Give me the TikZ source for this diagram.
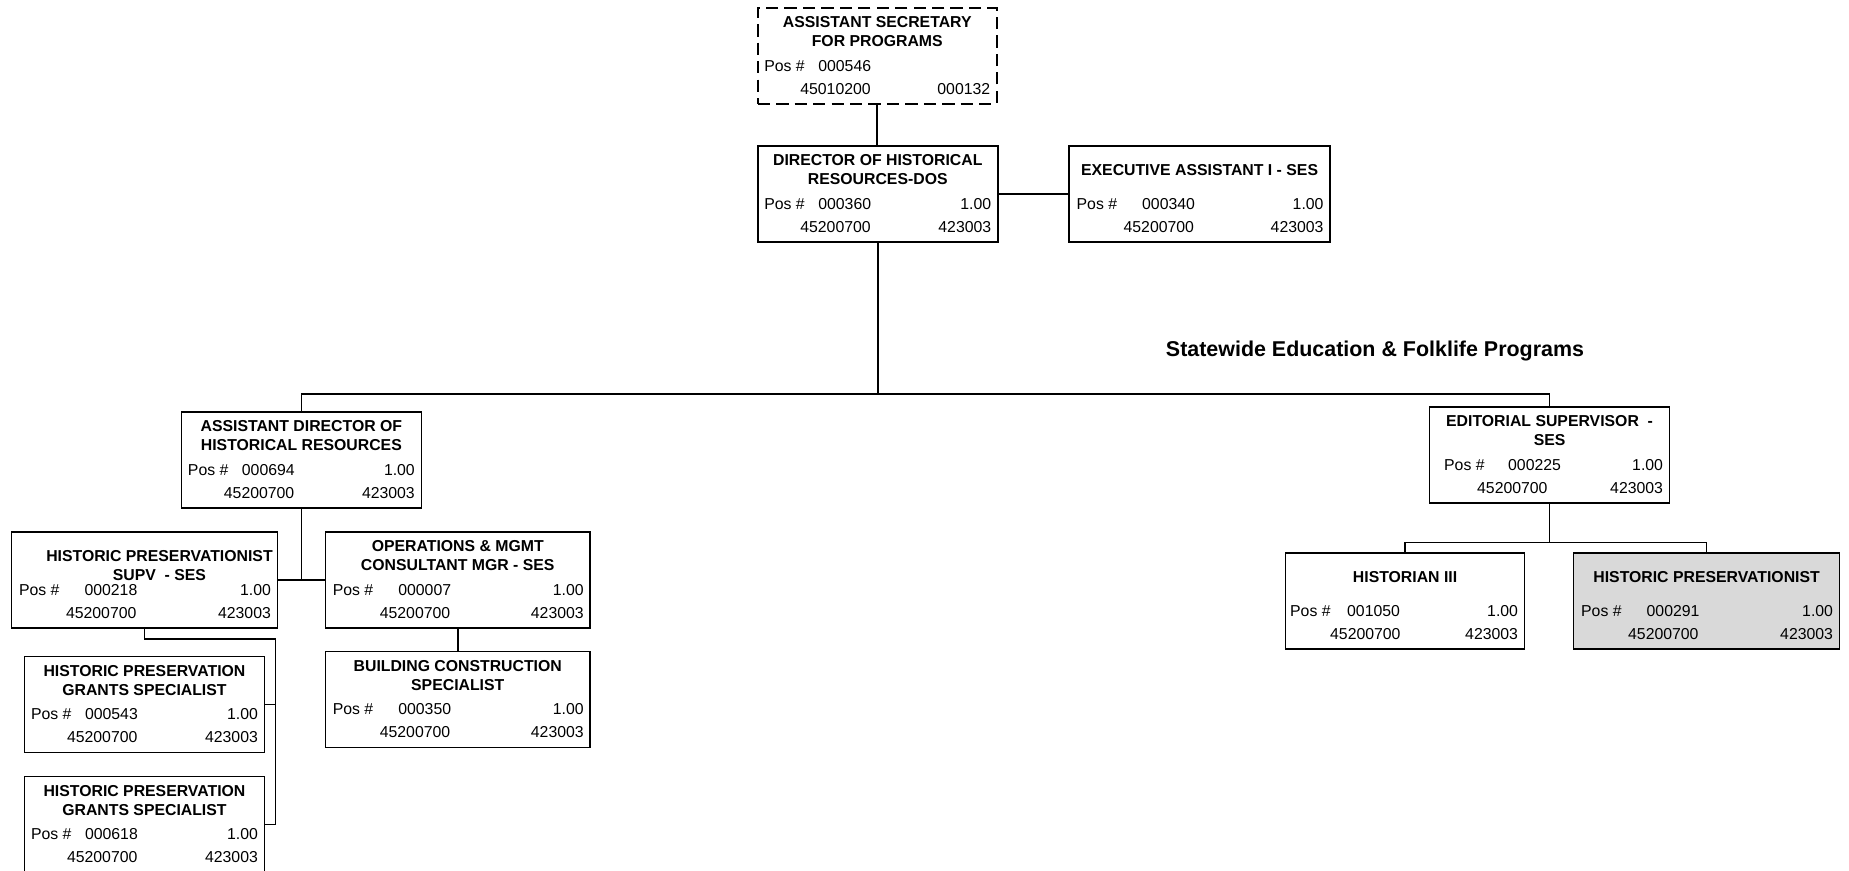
\documentclass[tikz,border=0pt]{standalone}
\usepackage{fontspec}
\setmainfont{Liberation Sans}
\definecolor{LineBlack}{RGB}{0, 0, 0}
\definecolor{FilledGray}{RGB}{217, 217, 217}

% column offsets inside a box (in px of the chart)
\newcommand{\orgposl}{7}
\newcommand{\orgposx}{61}
\newcommand{\orgbudx}{43}
\newcommand{\orgtdx}{0}
\newcommand{\orgtdy}{25}
\newcommand{\setcols}[3]{\renewcommand{\orgposl}{#1}\renewcommand{\orgposx}{#2}\renewcommand{\orgbudx}{#3}}
% name, top left corner, width, box options, title, pos, fte, budget, code
\newcommand{\orgbox}[9]{%
  \node[post, minimum width=#3, #4] (#1) at (#2) {};
  \node[jobtitle] (#1-title) at ([shift={(\orgtdx,\orgtdy)}]#1.north) {#5};
  \node[entry, anchor=base west] (#1-lbl) at ([shift={(\orgposl,64)}]#1.north west) {Pos \#};
  \node[entry, anchor=base west] (#1-pos) at ([shift={(\orgposx,64)}]#1.north west) {#6};
  \node[entry, anchor=base east] (#1-fte) at ([shift={(-7,64)}]#1.north east) {#7};
  \node[entry, anchor=base west] (#1-bud) at ([shift={(\orgbudx,87)}]#1.north west) {#8};
  \node[entry, anchor=base east] (#1-code) at ([shift={(-7,87)}]#1.north east) {#9};
}

\begin{document}
\begin{tikzpicture}[
    x=0.02cm, y=-0.02cm,
    post/.style={draw=LineBlack, line width=0.9pt, anchor=north west, minimum height=1.92cm, inner sep=0pt},
    vacant/.style={dash pattern=on 7pt off 3.5pt},
    greyed/.style={fill=FilledGray},
    jobtitle/.style={font=\fontsize{9}{10.8}\selectfont\bfseries, align=center, inner sep=0pt},
    entry/.style={font=\fontsize{9}{10.8}\selectfont, inner sep=0pt},
    link/.style={line width=0.9pt, LineBlack},
    heading/.style={font=\fontsize{12.2}{14}\selectfont\bfseries, inner sep=0pt}
  ]
    \useasboundingbox (0,0) rectangle (1849,870);

    % narrow boxes
    \orgbox{sec}{757,7}{4.78cm}{vacant}{ASSISTANT SECRETARY\\FOR PROGRAMS}{000546}{}{45010200}{000132}
    \orgbox{dir}{757,145}{4.8cm}{}{DIRECTOR OF HISTORICAL\\RESOURCES-DOS}{000360}{1.00}{45200700}{423003}
    \orgbox{asst}{180.6,411}{4.8cm}{}{ASSISTANT DIRECTOR OF\\HISTORICAL RESOURCES}{000694}{1.00}{45200700}{423003}
    \orgbox{grantsa}{23.7,655.7}{4.8cm}{}{HISTORIC PRESERVATION\\GRANTS SPECIALIST}{000543}{1.00}{45200700}{423003}
    \orgbox{grantsb}{23.7,775.7}{4.8cm}{}{HISTORIC PRESERVATION\\GRANTS SPECIALIST}{000618}{1.00}{45200700}{423003}
    \setcols{5}{62}{45}
    \orgbox{hist}{1284.8,552.3}{4.78cm}{}{HISTORIAN III}{001050}{1.00}{45200700}{423003}
    \setcols{15}{79}{48}
    \orgbox{edit}{1428.8,406}{4.8cm}{}{EDITORIAL SUPERVISOR\ \ -\\SES}{000225}{1.00}{45200700}{423003}

    % wide boxes
    \setcols{8}{73.5}{55}
    \orgbox{exec}{1068.3,145}{5.22cm}{}{EXECUTIVE ASSISTANT I - SES}{000340}{1.00}{45200700}{423003}
    \orgbox{ops}{324.5,531}{5.3cm}{}{OPERATIONS \& MGMT\\CONSULTANT MGR - SES}{000007}{1.00}{45200700}{423003}
    \orgbox{bldg}{324.5,650.7}{5.3cm}{}{BUILDING CONSTRUCTION\\SPECIALIST}{000350}{1.00}{45200700}{423003}
    \orgbox{hpres}{1572.8,552}{5.32cm}{greyed}{HISTORIC PRESERVATIONIST}{000291}{1.00}{45200700}{423003}
    \renewcommand{\orgtdx}{15}\renewcommand{\orgtdy}{35}
    \orgbox{supv}{10.7,531}{5.32cm}{}{HISTORIC PRESERVATIONIST\\SUPV\ \ - SES}{000218}{1.00}{45200700}{423003}

    \node[heading] (area) at (1375,351) {Statewide Education \& Folklife Programs};

    % connectors
    \coordinate (bus) at (877,394);
    \coordinate (spine) at (275.5,639);
    \draw[link] (sec.south) -- (sec.south |- dir.north);
    \draw[link] (dir) -- (exec);
    \draw[link] (dir.south) -- (dir.south |- bus);
    \draw[link] (asst.north) |- (bus) -| (edit.north);
    \draw[link] (asst.south) -- (asst.south |- supv.east);
    \draw[link] (supv.east) -- (ops.west);
    \draw[link] (ops) -- (bldg);
    \draw[link] (supv.south) |- (spine) -- (spine |- grantsb.east) -- (grantsb.east);
    \draw[link] (grantsa.east) -- (grantsa.east -| spine);
    \coordinate (ebus) at ([yshift=-0.78cm]edit.south);
    \draw[link] (edit.south) -- (ebus);
    \draw[link] (hist.north) |- (ebus) -| (hpres.north);
\end{tikzpicture}
\end{document}
